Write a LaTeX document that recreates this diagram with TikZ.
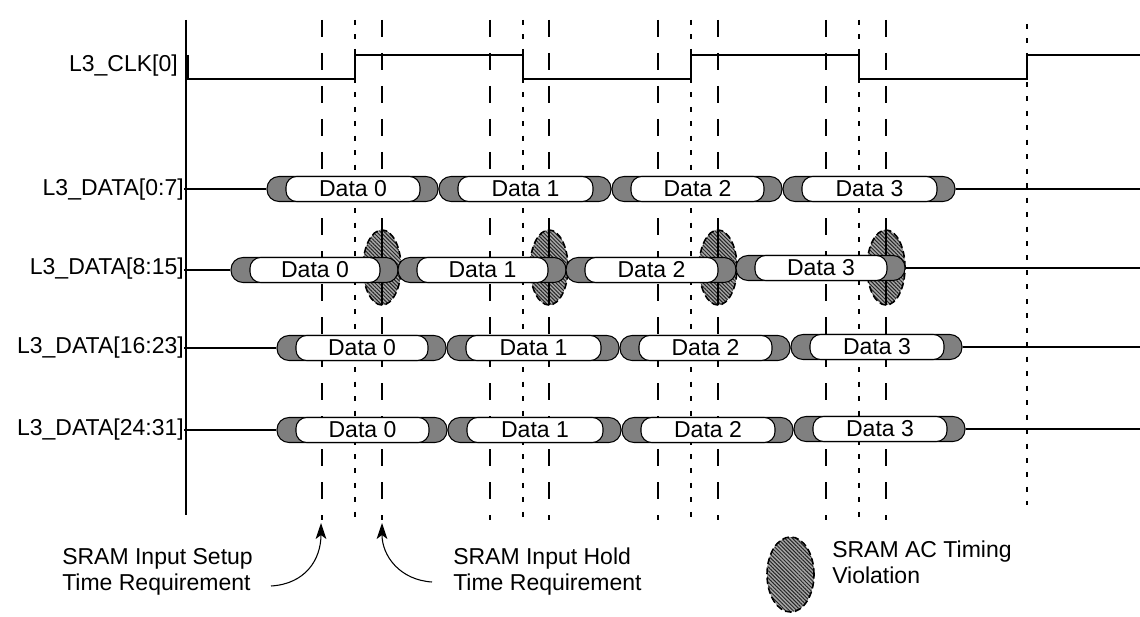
\documentclass[tikz,border=0pt]{standalone}
\usepackage{fontspec}
\setmainfont{Liberation Sans}
\usetikzlibrary{patterns.meta,arrows.meta,shapes.geometric}
\tikzset{
  txt/.style={font=\fontsize{17.25pt}{19.5pt}\selectfont, inner sep=0pt},
  sig/.style={line width=1.4pt},
  rowline/.style={line width=1.4pt},
  setupline/.style={line width=1.4pt, dash pattern=on 12.75pt off 12pt},
  clkline/.style={line width=1.4pt, dash pattern=on 3.75pt off 7.1pt},
  pillout/.style={draw, line width=0.8pt, fill=gray, rounded corners=9pt, minimum height=18.75pt, inner sep=0pt},
  pillin/.style={draw, line width=0.8pt, fill=white, rounded corners=8pt, minimum height=18.75pt, txt},
  viol/.style={ellipse, inner sep=0pt, fill=gray!70,
    postaction={pattern={Lines[angle=-45,distance=2pt,line width=0.75pt]}, pattern color=black!85},
    postaction={draw, line width=1.2pt, dash pattern=on 5pt off 2.5pt}},
  arr/.style={line width=0.8pt, -{Stealth[length=12pt,width=8pt,inset=3pt]}},
}
\newcommand\pill[5]{%
  \node[pillout, minimum width={(#3-#2)*0.75pt}] (#1o) at ({(#2+#3)/2},#4) {};
  \node[pillin, minimum width={(#3-#2-37)*0.75pt}] (#1) at ({(#2+#3)/2+0.5},#4) {#5};
}
\begin{document}
\begin{tikzpicture}[x=0.75pt,y=-0.75pt]
\useasboundingbox (0,0) rectangle (1140,617);
% axis
\draw[sig] (186,20) -- (186,515);
% clock
\draw[sig] (188,55) -- (188,79) -- (355,79) -- (355,55) -- (523,55) -- (523,79) -- (691,79) -- (691,55) -- (859,55) -- (859,79) -- (1027,79) -- (1027,55) -- (1140,55);
% violations
\node[viol, minimum width=28.5pt, minimum height=56.25pt] (v1) at (382,267.5) {};
\node[viol, minimum width=28.5pt, minimum height=56.25pt] (v2) at (549,267.5) {};
\node[viol, minimum width=28.5pt, minimum height=56.25pt] (v3) at (718,267.5) {};
\node[viol, minimum width=28.5pt, minimum height=56.25pt] (v4) at (886,267.5) {};
% vertical timing lines
\foreach \x in {322,382,490,549,658,718,826,886} \draw[setupline] (\x,20) -- (\x,520);
\foreach \x in {355,523,691,859} \draw[clkline] (\x,20) -- (\x,520);
\draw[clkline] (1027,24) -- (1027,505);
\foreach \v in {v1,v2,v3,v4} \draw[sig] (\v.north) -- (\v.south);
% row 0
\pill{a0}{267}{438}{189}{Data 0}
\pill{a1}{439}{611}{189}{Data 1}
\pill{a2}{612}{782}{189}{Data 2}
\pill{a3}{783}{955}{189}{Data 3}
% row 1
\pill{b0}{231}{398}{270}{Data 0}
\pill{b1}{398}{566}{270}{Data 1}
\pill{b2}{566}{736}{270}{Data 2}
\pill{b3}{736}{905}{268}{Data 3}
% row 2
\pill{c0}{277}{446}{348}{Data 0}
\pill{c1}{447}{619}{348}{Data 1}
\pill{c2}{620}{790}{348}{Data 2}
\pill{c3}{791}{962}{347}{Data 3}
% row 3
\pill{d0}{277}{447}{430}{Data 0}
\pill{d1}{448}{621}{430}{Data 1}
\pill{d2}{622}{793}{430}{Data 2}
\pill{d3}{794}{965}{429}{Data 3}
% labels
\node[txt, anchor=east] (lclk) at (178,65.5) {L3\_CLK[0]};
\node[txt, anchor=east] (l0) at (184,189.5) {L3\_DATA[0:7]};
\node[txt, anchor=east] (l1) at (184,268.5) {L3\_DATA[8:15]};
\node[txt, anchor=east] (l2) at (184,348) {L3\_DATA[16:23]};
\node[txt, anchor=east] (l3) at (184,430) {L3\_DATA[24:31]};
% row lines
\coordinate (r0) at (1140,189);
\coordinate (r1) at (1140,268);
\coordinate (r2) at (1140,347);
\coordinate (r3) at (1140,429);
\draw[rowline] (a0o.west -| l0.east) -- (a0o.west);
\draw[rowline] (b0o.west -| l1.east) -- (b0o.west);
\draw[rowline] (c0o.west -| l2.east) -- (c0o.west);
\draw[rowline] (d0o.west -| l3.east) -- (d0o.west);
\draw[rowline] (a3o.east) -- (r0);
\draw[rowline] (b3o.east) -- (r1);
\draw[rowline] (c3o.east) -- (r2);
\draw[rowline] (d3o.east) -- (r3);
% legend
\node[txt, anchor=west, align=left] (lsetup) at (62,572) {SRAM Input Setup\\Time Requirement};
\node[txt, anchor=west, align=left] (lhold) at (453,572) {SRAM Input Hold\\Time Requirement};
\node[viol, minimum width=35.25pt, minimum height=56.25pt] (lv) at (790.5,574.5) {};
\node[txt, anchor=west, align=left] (lviol) at (832,562) {SRAM AC Timing\\Violation};
\coordinate (s1) at (271,586);
\coordinate (tipsetup) at (321,523);
\coordinate (s2) at (432,582);
\coordinate (tiphold) at (382,523);
\draw[arr] (s1) .. controls (305,584) and (321,560) .. (tipsetup);
\draw[arr] (s2) .. controls (400,580) and (382,556) .. (tiphold);
\end{tikzpicture}
\end{document}
